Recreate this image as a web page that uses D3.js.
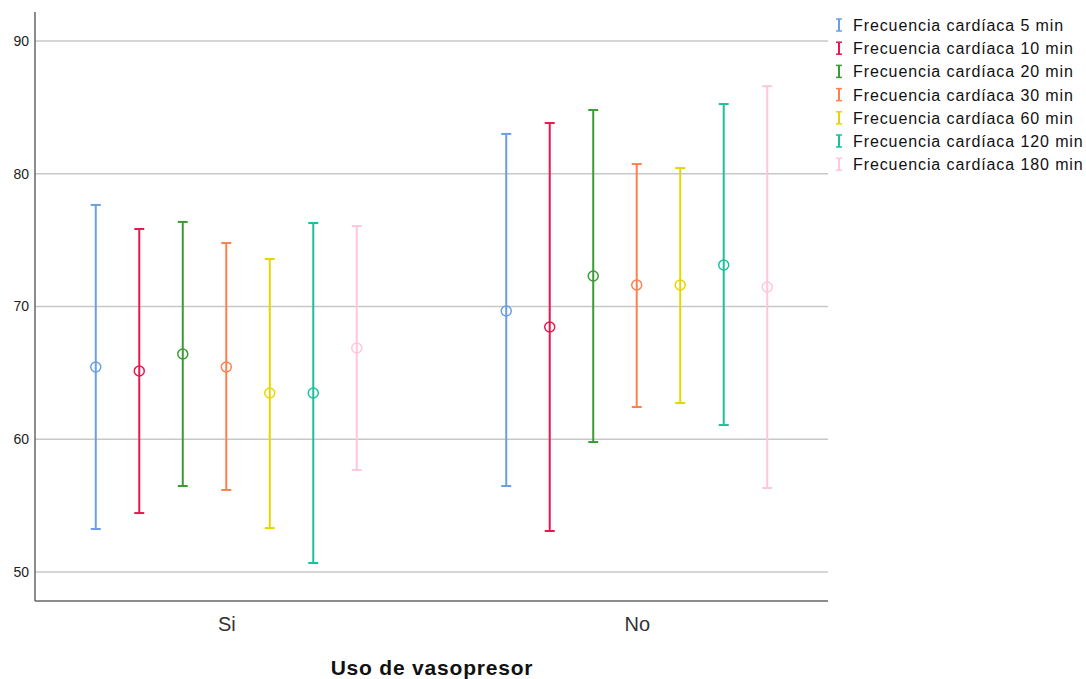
<!DOCTYPE html>
<html>
<head>
<meta charset="utf-8">
<script src="https://cdn.jsdelivr.net/npm/d3@7"></script>
<style>
  body { margin: 0; background: #fff; }
  svg { display: block; font-family: "Liberation Sans", Arial, sans-serif; }
</style>
</head>
<body>
<svg id="chart" width="1086" height="679"></svg>
<script>
const groups = ["Si", "No"];
const series = ["Frecuencia cardíaca 5 min", "Frecuencia cardíaca 10 min", "Frecuencia cardíaca 20 min",
  "Frecuencia cardíaca 30 min", "Frecuencia cardíaca 60 min", "Frecuencia cardíaca 120 min", "Frecuencia cardíaca 180 min"];
const colors = ["#6a9fe6", "#e8174f", "#3d9b35", "#ff7f4e", "#e6d600", "#1bbf9f", "#ffc6dd"];
// values per group, per series
const meanSi  = [65.44, 65.14, 66.42, 65.44, 63.48, 63.48, 66.87];
const lowSi   = [53.24, 54.44, 56.48, 56.18, 53.31, 50.68, 57.68];
const highSi  = [77.65, 75.84, 76.37, 74.78, 73.58, 76.29, 76.06];
const meanNo  = [69.66, 68.46, 72.30, 71.62, 71.62, 73.13, 71.47];
const lowNo   = [56.48, 53.09, 59.79, 62.43, 62.73, 61.07, 56.33];
const highNo  = [83.00, 83.82, 84.80, 80.73, 80.43, 85.25, 86.60];
const yTicks = [50, 60, 70, 80, 90];

const data = [];
groups.forEach((g, gi) => {
  const m = gi === 0 ? meanSi : meanNo;
  const lo = gi === 0 ? lowSi : lowNo;
  const hi = gi === 0 ? highSi : highNo;
  series.forEach((s, si) => data.push({group: g, series: s, mean: m[si], low: lo[si], high: hi[si], color: colors[si]}));
});

const svg = d3.select("#chart");
const pL = 35, pR = 828, pT = 12, pB = 601;

const y = d3.scaleLinear().domain([50, 90]).range([572, 41]);
const x = d3.scalePoint().domain(groups).range([pL, pR]).padding(0.466);
const xi = d3.scalePoint().domain(series).range([-130.5, 130.5]);

// gridlines
svg.append("g").selectAll("line").data(yTicks).join("line")
  .attr("x1", pL).attr("x2", pR)
  .attr("y1", d => y(d)).attr("y2", d => y(d))
  .attr("stroke", "#c8c8c8").attr("stroke-width", 1.5);

// y axis
const yAxis = svg.append("g").attr("transform", `translate(${pL},0)`)
  .call(d3.axisLeft(y).tickValues(yTicks).tickSize(0).tickPadding(6));
yAxis.select(".domain").remove();
yAxis.selectAll("text").attr("font-size", 14).attr("fill", "#222").attr("font-family", "Liberation Sans, Arial, sans-serif");

// x axis
const xAxis = svg.append("g").attr("transform", `translate(0,${pB})`)
  .call(d3.axisBottom(x).tickSize(0).tickPadding(16));
xAxis.select(".domain").remove();
xAxis.selectAll("text").attr("font-size", 20).attr("fill", "#333").attr("font-family", "Liberation Sans, Arial, sans-serif");

// axis lines
svg.append("line").attr("x1", pL).attr("x2", pL).attr("y1", pT).attr("y2", pB)
  .attr("stroke", "#666").attr("stroke-width", 1.5);
svg.append("line").attr("x1", pL).attr("x2", pR).attr("y1", pB).attr("y2", pB)
  .attr("stroke", "#666").attr("stroke-width", 1.5);

// error bars
const bars = svg.append("g").selectAll("g").data(data).join("g")
  .attr("transform", d => `translate(${x(d.group) + xi(d.series)},0)`);
bars.append("line").attr("y1", d => y(d.low)).attr("y2", d => y(d.high))
  .attr("stroke", d => d.color).attr("stroke-width", 2);
bars.append("line").attr("x1", -5).attr("x2", 5).attr("y1", d => y(d.high)).attr("y2", d => y(d.high))
  .attr("stroke", d => d.color).attr("stroke-width", 2);
bars.append("line").attr("x1", -5).attr("x2", 5).attr("y1", d => y(d.low)).attr("y2", d => y(d.low))
  .attr("stroke", d => d.color).attr("stroke-width", 2);
bars.append("circle").attr("cy", d => y(d.mean)).attr("r", 5)
  .attr("fill", "none").attr("stroke", d => d.color).attr("stroke-width", 1.5);

// x axis title
svg.append("text").attr("x", 432).attr("y", 675).attr("text-anchor", "middle")
  .attr("font-size", 21).attr("letter-spacing", 0.8).attr("font-weight", "bold").attr("fill", "#111").text("Uso de vasopresor");

// legend
const lg = svg.append("g").selectAll("g").data(series).join("g")
  .attr("transform", (d, i) => `translate(839,${25 + i * 23.2})`);
lg.append("line").attr("x1", 0).attr("x2", 0).attr("y1", -6).attr("y2", 6)
  .attr("stroke", (d, i) => colors[i]).attr("stroke-width", 2);
lg.append("line").attr("x1", -3).attr("x2", 3).attr("y1", -6).attr("y2", -6)
  .attr("stroke", (d, i) => colors[i]).attr("stroke-width", 1.5);
lg.append("line").attr("x1", -3).attr("x2", 3).attr("y1", 6).attr("y2", 6)
  .attr("stroke", (d, i) => colors[i]).attr("stroke-width", 1.5);
lg.append("text").attr("x", 14).attr("y", 6).attr("font-size", 16).attr("letter-spacing", 0.9)
  .attr("fill", "#111").text(d => d);
</script>
</body>
</html>
